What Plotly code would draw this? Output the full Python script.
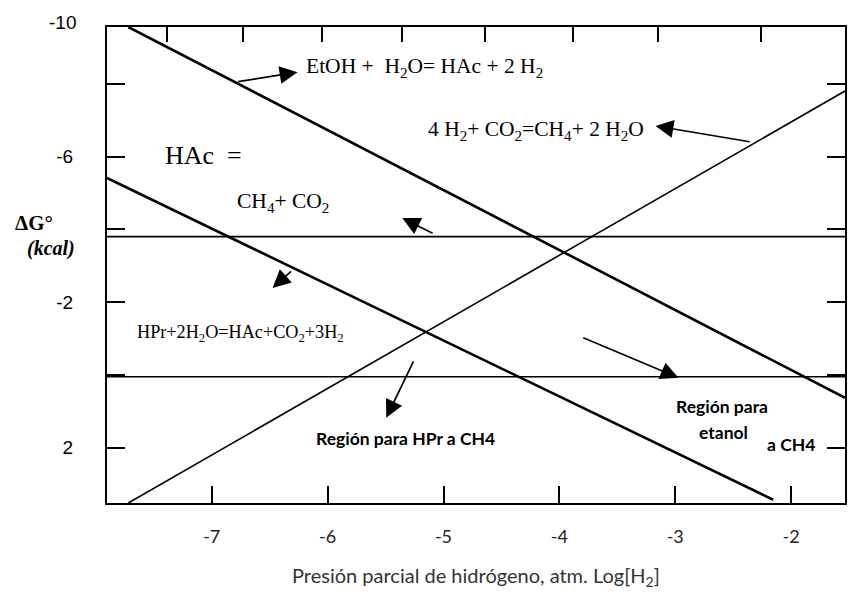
import plotly.graph_objects as go

# ---- data ----
x_ticks = [-7, -6, -5, -4, -3, -2]
x_tick_labels = ["-7", "-6", "-5", "-4", "-3", "-2"]
top_ticks = [-7.39, -6.73, -6.05, -5.36, -4.64, -3.88, -3.15, -2.26]
y_ticks = [-8, -6, -4, -2, 0, 2]
y_tick_labels = ["", "-6", "", "-2", "", "2"]

etoh_x = [-7.72, -1.535]
etoh_y = [-9.56, 0.63]
hpr_x = [-7.904, -2.155]
hpr_y = [-5.41, 3.43]
meth_x = [-7.72, -1.535]
meth_y = [3.52, -7.80]
hac_level = -3.80
zero_level = 0.05

x_range = [-7.904, -1.535]
y_range = [3.52, -9.56]

fig = go.Figure()
line_specs = [
    (etoh_x, etoh_y, 2.6),
    (hpr_x, hpr_y, 2.6),
    (meth_x, meth_y, 1.6),
    (x_range, [hac_level, hac_level], 1.6),
    (x_range, [zero_level, zero_level], 1.6),
]
for xs, ys, w in line_specs:
    fig.add_trace(go.Scatter(x=xs, y=ys, mode="lines",
                             line=dict(color="black", width=w),
                             showlegend=False, hoverinfo="skip", cliponaxis=True))
# invisible trace so the top axis is drawn
fig.add_trace(go.Scatter(x=x_range, y=[0, 0], xaxis="x2", mode="lines",
                         line=dict(width=0), showlegend=False, hoverinfo="skip"))

serif = "Liberation Serif"
sans = "Lato"

texts = [
    ("EtOH +  H<sub>2</sub>O= HAc + 2 H<sub>2</sub>", -6.20, -8.45, 21.5, serif),
    ("4 H<sub>2</sub>+ CO<sub>2</sub>=CH<sub>4</sub>+ 2 H<sub>2</sub>O", -5.15, -6.72, 21.5, serif),
    ("HAc  =", -7.42, -6.04, 26, serif),
    ("CH<sub>4</sub>+ CO<sub>2</sub>", -6.80, -4.75, 21.5, serif),
    ("HPr+2H<sub>2</sub>O=HAc+CO<sub>2</sub>+3H<sub>2</sub>", -7.663, -1.15, 18.2, serif),
    ("<b>Región para HPr a CH4</b>", -6.114, 1.76, 17.5, sans),
    ("<b>Región para</b>", -3.007, 0.88, 17.5, sans),
    ("<b>etanol</b>", -2.81, 1.57, 17.5, sans),
    ("<b>a CH4</b>", -2.224, 1.92, 17.5, sans),
]
annotations = []
for t, x, y, s, f in texts:
    annotations.append(dict(text=t, x=x, y=y, xref="x", yref="y", xanchor="left",
                            yanchor="middle", showarrow=False,
                            font=dict(family=f, size=s, color="black")))

# arrows: (tail_x, tail_y, head_x, head_y)
arrows = [
    (-6.785, -8.05, -6.26, -8.32),
    (-2.344, -6.40, -3.17, -6.84),
    (-5.081, -3.87, -5.356, -4.31),
    (-6.303, -2.885, -6.475, -2.39),
    (-5.253, -0.41, -5.494, 1.18),
    (-3.807, -1.04, -2.972, 0.08),
]
for tx, ty, hx, hy in arrows:
    annotations.append(dict(text="", x=hx, y=hy, ax=tx, ay=ty, xref="x", yref="y",
                            axref="x", ayref="y", showarrow=True, arrowhead=2,
                            arrowsize=2.1, arrowwidth=1.7, arrowcolor="black"))

# y label, top tick label and x title
annotations += [
    dict(text="<b>ΔG°</b>", x=-0.0986, y=0.588, xref="paper", yref="paper",
         xanchor="center", yanchor="middle",
         showarrow=False, font=dict(family=serif, size=21, color="black")),
    dict(text="<b><i>(kcal)</i></b>", x=-0.0757, y=0.534, xref="paper", yref="paper",
         xanchor="center", yanchor="middle",
         showarrow=False, font=dict(family=serif, size=20, color="black")),
    dict(text="-10", x=0, y=1, xref="paper", yref="paper", xanchor="right",
         yanchor="middle", xshift=-29, yshift=5, showarrow=False,
         font=dict(family="Liberation Sans", size=19, color="black")),
    dict(text="Presión parcial de hidrógeno, atm. Log[H<sub>2</sub>]", x=0.5, y=-0.155,
         xref="paper", yref="paper", xanchor="center", yanchor="middle", showarrow=False,
         font=dict(family=sans, size=20, color="#333333")),
]

fig.update_layout(
    width=848, height=592,
    margin=dict(l=107, r=1, t=27, b=89),
    paper_bgcolor="white", plot_bgcolor="white",
    showlegend=False,
    annotations=annotations,
    xaxis=dict(range=x_range, tickvals=x_ticks, ticktext=x_tick_labels,
               ticks="inside", ticklen=17, tickwidth=1.5, tickcolor="black",
               showline=True, linewidth=2, linecolor="black", mirror=False,
               showgrid=False, zeroline=False, ticklabelstandoff=16,
               tickfont=dict(family=sans, size=18, color="#222222")),
    xaxis2=dict(range=x_range, overlaying="x", side="top", tickvals=top_ticks,
                showticklabels=False, ticks="inside", ticklen=15, tickwidth=1.5,
                tickcolor="black", showline=True, linewidth=2, linecolor="black",
                showgrid=False, zeroline=False),
    yaxis=dict(range=y_range, tickvals=y_ticks, ticktext=y_tick_labels,
               ticks="inside", ticklen=18, tickwidth=1.5, tickcolor="black",
               showline=True, linewidth=2, linecolor="black", mirror="ticks",
               showgrid=False, zeroline=False, ticklabelstandoff=28,
               tickfont=dict(family="Liberation Sans", size=19, color="black")),
)

fig.write_html("out.html")
